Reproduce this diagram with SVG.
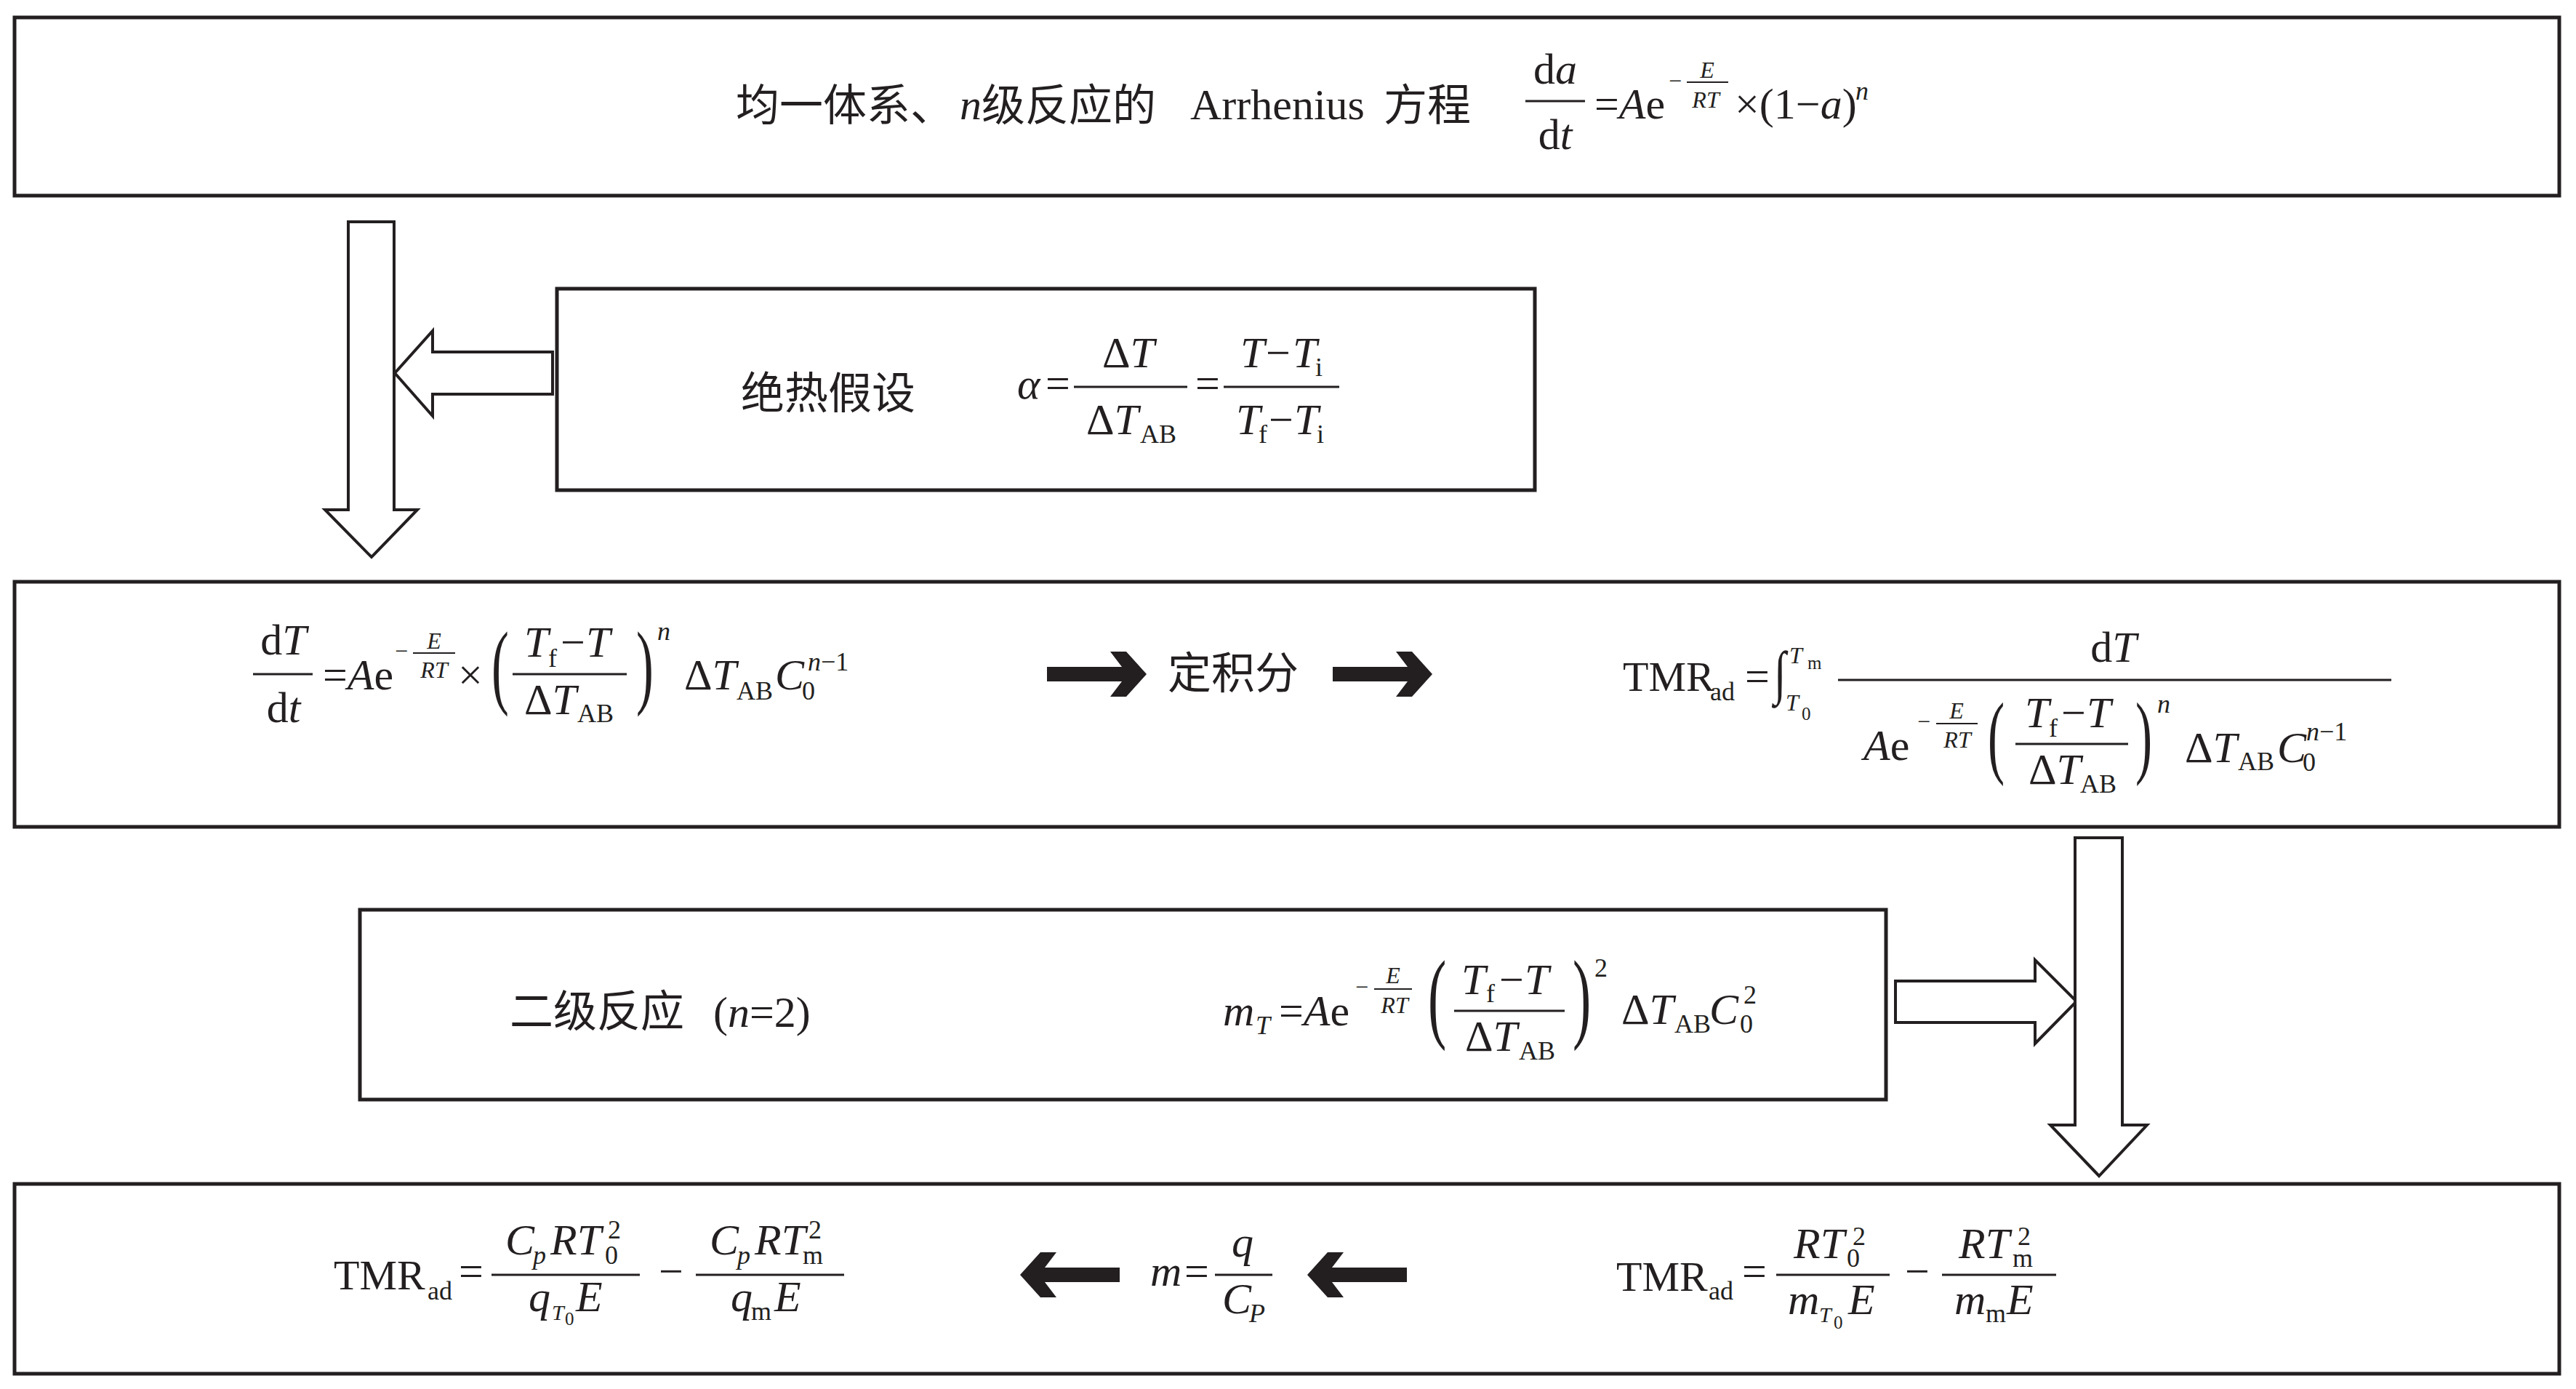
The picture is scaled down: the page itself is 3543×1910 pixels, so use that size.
<svg xmlns="http://www.w3.org/2000/svg" width="3543" height="1910" viewBox="0 0 3543 1910">
<style>
.box{fill:#fff;stroke:#231f20;stroke-width:5}
.ha{fill:#fff;stroke:#231f20;stroke-width:4;stroke-linejoin:miter}
.ba{fill:#231f20}
.fb{stroke:#231f20;stroke-width:3}
.fs{stroke:#231f20;stroke-width:2}
text{font-family:"Liberation Serif","Noto Sans CJK SC",serif;font-size:60px;fill:#231f20}
.i{font-style:italic}
.s{font-size:36px}
.x{font-size:32px}
.t30{font-size:30px}
.ss{font-size:25px}
.k{font-size:58px}
.p130{font-size:130px}
.p126{font-size:126px}
.p138{font-size:138px}
.cjk{font-family:"Noto Sans CJK SC","Liberation Serif",sans-serif;font-size:60px}
</style>
<defs>
<path id="barrow" d="M-137,-10 H-34 L-50,-31 H-28 L0,0 L-28,31 H-50 L-34,10 H-137 Z"/>
</defs>
<rect width="3543" height="1910" fill="#fff"/>

<g id="node-arrhenius">
<rect class="box" x="20" y="24" width="3500" height="245"/>
<text class="cjk" x="1012" y="166">均一体系、</text>
<text class="i" x="1320" y="164">n</text>
<text class="cjk" x="1350" y="166">级反应的</text>
<text x="1637" y="164">Arrhenius</text>
<text class="cjk" x="1903" y="166">方程</text>
<text x="2139" y="115" text-anchor="middle">d<tspan class="i">a</tspan></text>
<line class="fb" x1="2098" y1="139" x2="2180" y2="139"/>
<text x="2139" y="205" text-anchor="middle">d<tspan class="i">t</tspan></text>
<text x="2193" y="163">=<tspan class="i">A</tspan>e</text>
<text class="x" x="2295" y="122">−</text>
<line class="fs" x1="2320" y1="113" x2="2377" y2="113"/>
<text class="x i" x="2348" y="107" text-anchor="middle">E</text>
<text class="x i" x="2346" y="148" text-anchor="middle">RT</text>
<text x="2386" y="163">×(1−<tspan class="i">a</tspan>)</text>
<text class="s i" x="2552" y="137">n</text>
</g>

<g id="node-adiabatic">
<rect class="box" x="766" y="397" width="1345" height="277"/>
<text class="cjk" x="1019" y="562">绝热假设</text>
<text class="i" x="1399" y="548">α</text>
<text x="1438" y="547">=</text>
<line class="fb" x1="1477" y1="532" x2="1633" y2="532"/>
<text y="505"><tspan x="1516">Δ</tspan><tspan class="i">T</tspan></text>
<text y="597"><tspan x="1494">Δ</tspan><tspan class="i">T</tspan><tspan class="s" x="1568" y="609">AB</tspan></text>
<text x="1644" y="547">=</text>
<line class="fb" x1="1683" y1="532" x2="1842" y2="532"/>
<text y="505"><tspan class="i" x="1706">T</tspan><tspan x="1741">−</tspan><tspan class="i" x="1778">T</tspan><tspan class="s" x="1809" y="517">i</tspan></text>
<text y="597"><tspan class="i" x="1700">T</tspan><tspan class="s" x="1731" y="609">f</tspan><tspan x="1745" y="597">−</tspan><tspan class="i" x="1780">T</tspan><tspan class="s" x="1811" y="609">i</tspan></text>
</g>

<g id="node-rate">
<rect class="box" x="20" y="800" width="3500" height="337"/>
<text x="390" y="900" text-anchor="middle">d<tspan class="i">T</tspan></text>
<line class="fb" x1="348" y1="927" x2="430" y2="927"/>
<text x="390" y="993" text-anchor="middle">d<tspan class="i">t</tspan></text>
<text x="444" y="948">=<tspan class="i">A</tspan>e</text>
<text class="x" x="543" y="906">−</text>
<line class="fs" x1="568" y1="898" x2="626" y2="898"/>
<text class="x i" x="597" y="892" text-anchor="middle">E</text>
<text class="x i" x="597" y="932" text-anchor="middle">RT</text>
<text x="630" y="948">×</text>
<text class="p130" transform="translate(676,958) scale(0.55,1)">(</text>
<line class="fb" x1="705" y1="927" x2="862" y2="927"/>
<text y="903"><tspan class="i" x="721">T</tspan><tspan class="s" x="754" y="917">f</tspan><tspan x="771" y="903">−</tspan><tspan class="i" x="806">T</tspan></text>
<text y="982"><tspan x="721">Δ</tspan><tspan class="i">T</tspan><tspan class="s" x="794" y="993">AB</tspan></text>
<text class="p130" transform="translate(875,958) scale(0.55,1)">)</text>
<text class="s i" x="904" y="880">n</text>
<text y="948"><tspan x="941">Δ</tspan><tspan class="i">T</tspan><tspan class="s" x="1013" y="962">AB</tspan><tspan class="i" x="1066" y="948">C</tspan><tspan class="s" x="1103" y="962">0</tspan></text>
<text class="s" x="1111" y="922"><tspan class="i">n</tspan>−1</text>

<text class="cjk" x="1606" y="947">定积分</text>

<text class="k" x="2232" y="950">TMR</text>
<text class="s" x="2352" y="963">ad</text>
<text x="2400" y="950">=</text>
<text class="i" transform="translate(2440,952) scale(1,1.35)">∫</text>
<text class="x i" x="2461" y="912">T</text>
<text class="ss" x="2486" y="920">m</text>
<text class="x i" x="2456" y="977">T</text>
<text class="ss" x="2478" y="990">0</text>
<line class="fb" x1="2528" y1="935" x2="3289" y2="935"/>
<text x="2907" y="910" text-anchor="middle">d<tspan class="i">T</tspan></text>
<text x="2563" y="1045"><tspan class="i">A</tspan>e</text>
<text class="x" x="2637" y="1003">−</text>
<line class="fs" x1="2663" y1="995" x2="2720" y2="995"/>
<text class="x i" x="2691" y="988" text-anchor="middle">E</text>
<text class="x i" x="2692" y="1028" text-anchor="middle">RT</text>
<text class="p126" transform="translate(2734,1054) scale(0.55,1)">(</text>
<line class="fb" x1="2772" y1="1023" x2="2927" y2="1023"/>
<text y="1000"><tspan class="i" x="2785">T</tspan><tspan class="s" x="2818" y="1013">f</tspan><tspan x="2835" y="1000">−</tspan><tspan class="i" x="2870">T</tspan></text>
<text y="1078"><tspan x="2790">Δ</tspan><tspan class="i">T</tspan><tspan class="s" x="2861" y="1090">AB</tspan></text>
<text class="p126" transform="translate(2937,1054) scale(0.55,1)">)</text>
<text class="s i" x="2967" y="980">n</text>
<text y="1048"><tspan x="3005">Δ</tspan><tspan class="i">T</tspan><tspan class="s" x="3078" y="1059">AB</tspan><tspan class="i" x="3132" y="1048">C</tspan><tspan class="s" x="3167" y="1060">0</tspan></text>
<text class="s" x="3172" y="1018"><tspan class="i">n</tspan>−1</text>
</g>

<g id="node-second-order">
<rect class="box" x="495" y="1251" width="2099" height="261"/>
<text class="cjk" x="701" y="1412">二级反应</text>
<text x="981" y="1412">(<tspan class="i">n</tspan>=2)</text>
<text class="i" x="1682" y="1410">m</text>
<text class="s i" x="1727" y="1422">T</text>
<text x="1759" y="1410">=<tspan class="i">A</tspan>e</text>
<text class="x" x="1864" y="1368">−</text>
<line class="fs" x1="1890" y1="1360" x2="1942" y2="1360"/>
<text class="x i" x="1916" y="1352" text-anchor="middle">E</text>
<text class="x i" x="1918" y="1393" text-anchor="middle">RT</text>
<text class="p138" transform="translate(1964,1416) scale(0.55,1)">(</text>
<line class="fb" x1="2000" y1="1390" x2="2152" y2="1390"/>
<text y="1367"><tspan class="i" x="2010">T</tspan><tspan class="s" x="2044" y="1378">f</tspan><tspan x="2062" y="1367">−</tspan><tspan class="i" x="2097">T</tspan></text>
<text y="1445"><tspan x="2015">Δ</tspan><tspan class="i">T</tspan><tspan class="s" x="2089" y="1457">AB</tspan></text>
<text class="p138" transform="translate(2163,1416) scale(0.55,1)">)</text>
<text class="s" x="2193" y="1343">2</text>
<text y="1408"><tspan x="2230">Δ</tspan><tspan class="i">T</tspan><tspan class="s" x="2303" y="1420">AB</tspan><tspan class="i" x="2351" y="1408">C</tspan><tspan class="s" x="2393" y="1420">0</tspan></text>
<text class="s" x="2398" y="1380">2</text>
</g>

<g id="node-tmr">
<rect class="box" x="20" y="1628" width="3500" height="261"/>
<text class="k" x="459" y="1773">TMR</text>
<text class="s" x="588" y="1787">ad</text>
<text x="631" y="1768">=</text>
<line class="fb" x1="676" y1="1753" x2="880" y2="1753"/>
<text y="1725"><tspan class="i" x="695">C</tspan><tspan class="s i" x="733" y="1738">p</tspan><tspan class="i" x="757" y="1725">R</tspan><tspan class="i">T</tspan></text>
<text class="s" x="832" y="1738">0</text>
<text class="s" x="836" y="1703">2</text>
<text class="i" x="727" y="1803">q</text>
<text class="t30 i" x="759" y="1815">T</text>
<text class="ss" x="777" y="1822">0</text>
<text class="i" x="792" y="1803">E</text>
<text x="906" y="1768">−</text>
<line class="fb" x1="957" y1="1753" x2="1161" y2="1753"/>
<text y="1725"><tspan class="i" x="976">C</tspan><tspan class="s i" x="1014" y="1738">p</tspan><tspan class="i" x="1038" y="1725">R</tspan><tspan class="i">T</tspan></text>
<text class="s" x="1104" y="1738">m</text>
<text class="s" x="1112" y="1703">2</text>
<text class="i" x="1005" y="1803">q</text>
<text class="s" x="1033" y="1815">m</text>
<text class="i" x="1065" y="1803">E</text>

<text class="i" x="1582" y="1768">m</text>
<text x="1629" y="1768">=</text>
<line class="fb" x1="1671" y1="1753" x2="1750" y2="1753"/>
<text class="i" x="1709" y="1728" text-anchor="middle">q</text>
<text class="i" x="1681" y="1806">C</text>
<text class="s i" x="1718" y="1818">P</text>

<text class="k" x="2223" y="1775">TMR</text>
<text class="s" x="2350" y="1787">ad</text>
<text x="2396" y="1768">=</text>
<line class="fb" x1="2443" y1="1753" x2="2599" y2="1753"/>
<text y="1730"><tspan class="i" x="2467">R</tspan><tspan class="i">T</tspan></text>
<text class="s" x="2540" y="1742">0</text>
<text class="s" x="2548" y="1712">2</text>
<text class="i" x="2459" y="1807">m</text>
<text class="t30 i" x="2502" y="1818">T</text>
<text class="ss" x="2522" y="1827">0</text>
<text class="i" x="2542" y="1807">E</text>
<text x="2620" y="1768">−</text>
<line class="fb" x1="2671" y1="1753" x2="2828" y2="1753"/>
<text y="1730"><tspan class="i" x="2694">R</tspan><tspan class="i">T</tspan></text>
<text class="s" x="2768" y="1742">m</text>
<text class="s" x="2775" y="1712">2</text>
<text class="i" x="2688" y="1807">m</text>
<text class="s" x="2731" y="1818">m</text>
<text class="i" x="2760" y="1807">E</text>
</g>

<g id="connectors">
<polygon id="arrow-1-3" class="ha" points="479,305 542,305 542,701 574,701 511,766 447,701 479,701"/>
<polygon id="arrow-2-left" class="ha" points="760,484 595,484 595,455 543,513 595,572 595,542 760,542"/>
<polygon id="arrow-4-right" class="ha" points="2607,1349 2799,1349 2799,1320 2856,1377 2799,1435 2799,1406 2607,1406"/>
<polygon id="arrow-3-5" class="ha" points="2854,1152 2919,1152 2919,1547 2953,1547 2887,1617 2820,1547 2854,1547"/>
<use href="#barrow" class="ba" transform="translate(1577,927)"/>
<use href="#barrow" class="ba" transform="translate(1970,927)"/>
<use href="#barrow" class="ba" transform="translate(1403,1753) scale(-1,1)"/>
<use href="#barrow" class="ba" transform="translate(1798,1753) scale(-1,1)"/>
</g>
</svg>
